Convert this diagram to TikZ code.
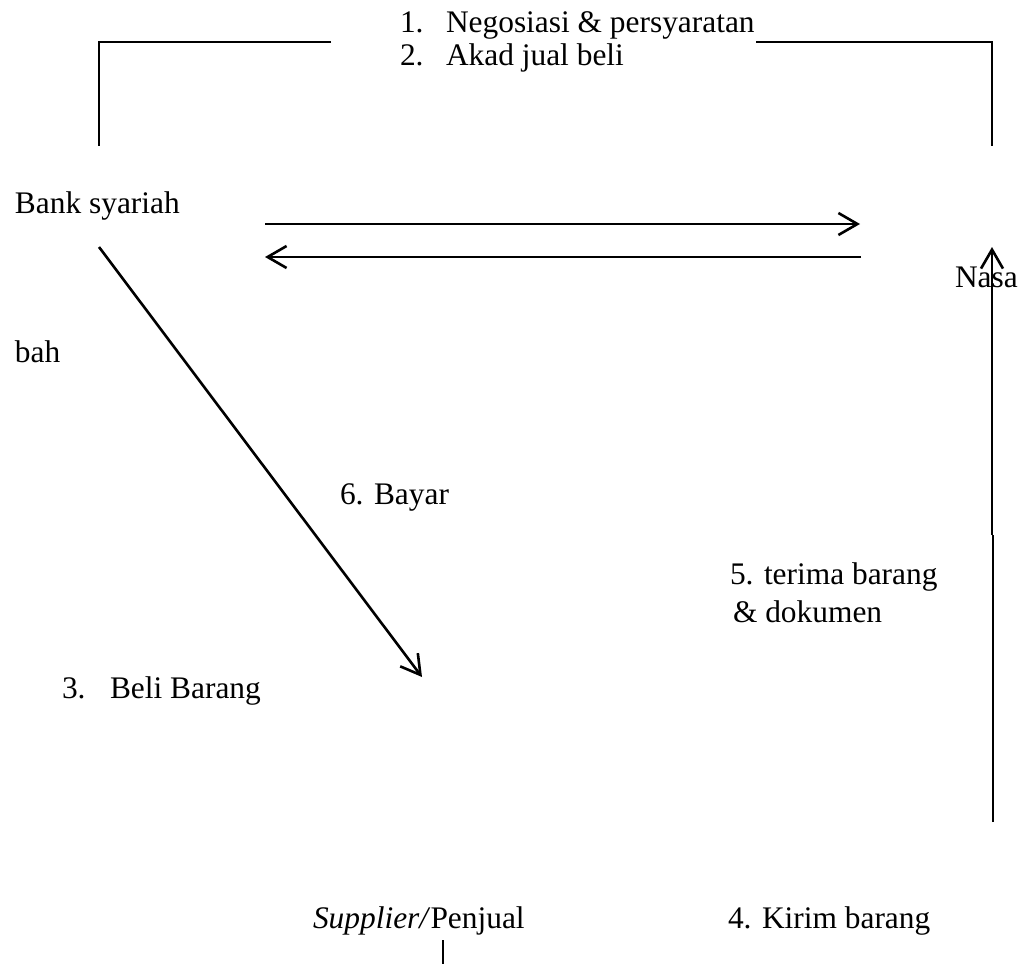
\documentclass[tikz,border=0pt]{standalone}
\usepackage{fontspec}
\setmainfont{Liberation Serif}
\usetikzlibrary{arrows.meta}
\begin{document}
\begin{tikzpicture}[x=0.5pt,y=-0.5pt,
  lbl/.style={anchor=base west,inner sep=0pt,outer sep=0pt,font=\fontsize{15.7pt}{18pt}\selectfont},
  ln/.style={line width=1.3pt},
  arr/.style={ln,-{Straight Barb[length=9.5pt,width=11pt,line width=1.3pt]}}]
\useasboundingbox (0,0) rectangle (1024,964);
% texts
\node[lbl] (n1) at (400,32) {1.};
\node[lbl] (t1) at (446,32) {Negosiasi \& persyaratan};
\node[lbl] (n2) at (400,65) {2.};
\node[lbl] (t2) at (446,65) {Akad jual beli};
\node[lbl] (bank) at (15,213) {Bank syariah};
\node[lbl] (nasa) at (955,287) {Nasa};
\node[lbl] (bah) at (15,362) {bah};
\node[lbl] (bayar) at (340,504) {6. Bayar};
\node[lbl] (terima) at (730,584) {5. terima barang};
\node[lbl] (dok) at (733,622) {\& dokumen};
\node[lbl] (n3) at (62,698) {3.};
\node[lbl] (beli) at (110,698) {Beli Barang};
\node[lbl] (supp) at (313,928) {\textit{Supplier/}Penjual};
\node[lbl] (kirim) at (728,928) {4. Kirim barang};
% coordinates
\coordinate (bl1) at (331,42);
\coordinate (bl2) at (99,42);
\coordinate (bl3) at (99,146);
\coordinate (br1) at (756,42);
\coordinate (br2) at (992,42);
\coordinate (br3) at (992,146);
\coordinate (ra) at (265,224);
\coordinate (rb) at (860,224);
\coordinate (la) at (861,257);
\coordinate (lb) at (265,257);
\coordinate (da) at (99,247);
\coordinate (db) at (422,677);
\coordinate (va) at (993,822);
\coordinate (vm1) at (993,535);
\coordinate (vm2) at (992,535);
\coordinate (vb) at (992,247);
\coordinate (ta) at (443,940);
\coordinate (tb) at (443,964);
% lines
\draw[ln] (bl1) -- (bl2) -- (bl3);
\draw[ln] (br1) -- (br2) -- (br3);
\draw[arr] (ra) -- (rb);
\draw[arr] (la) -- (lb);
\draw[arr] (da) -- (db);
\draw[ln] (va) -- (vm1);
\draw[arr] (vm2) -- (vb);
\draw[line width=1pt] (ta) -- (tb);
\end{tikzpicture}
\end{document}
